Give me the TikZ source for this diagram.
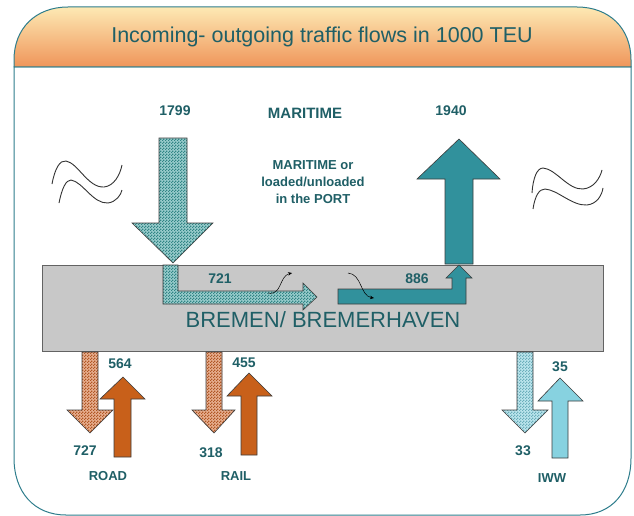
\documentclass[tikz,border=0pt]{standalone}
\usepackage{fontspec}
\setmainfont{Liberation Sans}
\usetikzlibrary{patterns,patterns.meta,arrows.meta}
\definecolor{txt}{HTML}{1F5F66}
\definecolor{framec}{HTML}{2E7D8C}
\definecolor{headtop}{HTML}{FDE9B4}
\definecolor{headbot}{HTML}{EF955A}
\definecolor{tealchk}{HTML}{3A9C9C}
\definecolor{tealsol}{HTML}{31919C}
\definecolor{orsol}{HTML}{C8601A}
\definecolor{orchk}{HTML}{D0662A}
\definecolor{lbsol}{HTML}{87D2E0}
\definecolor{lbchk}{HTML}{7ECDDC}
\definecolor{boxgray}{HTML}{C8C8C8}
\definecolor{outl}{HTML}{3C3C3C}
\tikzdeclarepattern{
  name=finechk,
  type=uncolored,
  bottom left={(0pt,0pt)},
  top right={(3pt,3pt)},
  tile size={(3pt,3pt)},
  code={
    \pgfpathrectangle{\pgfpointorigin}{\pgfqpoint{1.5pt}{1.5pt}}
    \pgfpathrectangle{\pgfqpoint{1.5pt}{1.5pt}}{\pgfqpoint{1.5pt}{1.5pt}}
    \pgfusepath{fill}
  }
}
\begin{document}
\begin{tikzpicture}[x=1pt,y=-1pt,
  arrowline/.style={draw=outl, line width=0.6pt},
  chk/.style={arrowline, preaction={fill=#1!52!white}, pattern=finechk, pattern color=#1!85!black},
  sol/.style={arrowline, fill=#1},
  num/.style={text=txt, font=\bfseries\fontsize{14}{16}\selectfont, inner sep=0pt, anchor=base},
  mode/.style={text=txt, font=\bfseries\fontsize{13}{15}\selectfont, inner sep=0pt, anchor=base},
  wave/.style={draw=black!80, line width=0.9pt},
  squig/.style={draw=black, line width=0.5pt, -{Stealth[length=4pt,width=3.5pt]}}
]
\useasboundingbox (0,0) rectangle (634,516);
% frame body
\path[draw=framec, line width=1pt, fill=white]
  (14,67) -- (14,458) .. controls (14,492) and (34,515) .. (66,515) -- (580,515)
  .. controls (612,515) and (631,492) .. (631,458) -- (631,67) -- cycle;
% header
\path[draw=framec, line width=1pt, top color=headtop, bottom color=headbot]
  (14,67) -- (14,60) .. controls (14,28) and (36,7) .. (68,7) -- (577,7)
  .. controls (609,7) and (631,28) .. (631,60) -- (631,67) -- cycle;
\node[text=txt, font=\fontsize{21.5}{24}\selectfont, inner sep=0pt, anchor=base] (title) at (322,43) {Incoming- outgoing traffic flows in 1000 TEU};

% waves
\path[wave] (52,184) .. controls (55,168) and (60,160) .. (66,161) .. controls (78,163) and (88,188) .. (104,187) .. controls (114,186) and (120,175) .. (122,165);
\path[wave] (59,203) .. controls (62,188) and (66,180) .. (71,180) .. controls (83,182) and (93,204) .. (108,203) .. controls (116,202) and (121,195) .. (122,190);
\path[wave] (532,193) .. controls (533,178) and (537,168) .. (543,168) .. controls (556,169) and (568,190) .. (583,189) .. controls (594,188) and (600,178) .. (602,170);
\path[wave] (533,209) .. controls (535,196) and (539,189) .. (545,189) .. controls (558,190) and (572,206) .. (587,205) .. controls (597,204) and (602,195) .. (603,188);

% port box
\path[draw=outl!80, line width=0.8pt, fill=boxgray] (42,265) rectangle (603,351);
\node[text=txt, font=\fontsize{22}{26}\selectfont, inner sep=0pt, anchor=base] (port) at (323,327) {BREMEN/ BREMERHAVEN};

% maritime incoming
\path[chk=tealchk] (159,138) -- (187,138) -- (187,223) -- (213,223) -- (173,263) -- (132,223) -- (159,223) -- cycle;
\path[chk=tealchk] (163,265) -- (178,265) -- (178,291) -- (303,291) -- (303,283) -- (317,297) -- (303,310) -- (303,304) -- (163,304) -- cycle;
% maritime outgoing
\path[sol=tealsol] (445,264) -- (445,179) -- (417,179) -- (459,139) -- (500,179) -- (473,179) -- (473,264) -- cycle;
\path[sol=tealsol] (338,289) -- (452,289) -- (452,278) -- (446,278) -- (459,265) -- (472,278) -- (466,278) -- (466,304) -- (338,304) -- cycle;

% squiggles
\path[squig] (268,293) .. controls (282,296) and (279,276) .. (292,273);
\path[squig] (348,273) .. controls (362,274) and (360,296) .. (374,298);

% road
\path[chk=orchk] (82,352) -- (98,352) -- (98,410) -- (113,410) -- (90,433) -- (67,410) -- (82,410) -- cycle;
\path[sol=orsol] (114,457) -- (114,399) -- (100,399) -- (123,377) -- (145,399) -- (131,399) -- (131,457) -- cycle;
% rail
\path[chk=orchk] (206,352) -- (222,352) -- (222,410) -- (235,410) -- (214,433) -- (192,410) -- (206,410) -- cycle;
\path[sol=orsol] (241,455) -- (241,396) -- (227,396) -- (249,373) -- (272,396) -- (257,396) -- (257,455) -- cycle;
% iww
\path[chk=lbchk] (517,352) -- (533,352) -- (533,410) -- (548,410) -- (525,433) -- (502,410) -- (517,410) -- cycle;
\path[sol=lbsol] (552,458) -- (552,401) -- (538,401) -- (560,378) -- (583,401) -- (568,401) -- (568,458) -- cycle;

% labels
\node[num] (n1799) at (175,116) {1799};
\node[num, font=\bfseries\fontsize{15}{17}\selectfont] (maritime) at (305,118.5) {MARITIME};
\node[mode, align=center, font=\bfseries\fontsize{13}{17}\selectfont] (mport) at (313,203) {MARITIME or\\loaded/unloaded\\in the PORT};
\node[num] (n1940) at (451,116) {1940};
\node[num] (n721) at (220,283) {721};
\node[num] (n886) at (417,283) {886};
\node[num] (n564) at (120,368) {564};
\node[num] (n727) at (85,455) {727};
\node[mode] (road) at (108,480) {ROAD};
\node[num] (n455) at (244,367) {455};
\node[num] (n318) at (211,457) {318};
\node[mode] (rail) at (236,480) {RAIL};
\node[num] (n35) at (560,371) {35};
\node[num] (n33) at (523,455) {33};
\node[mode] (iww) at (552,482) {IWW};
\end{tikzpicture}
\end{document}
